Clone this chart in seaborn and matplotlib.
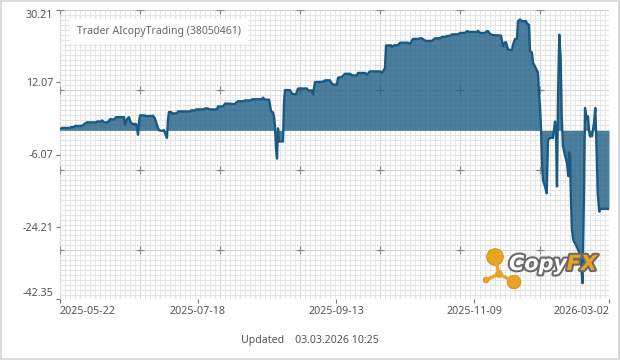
import numpy as np
import pandas as pd
import matplotlib
matplotlib.use("Agg")
import matplotlib.pyplot as plt
import seaborn as sns
from matplotlib.patches import Circle, Rectangle
import matplotlib.patheffects as pe

# ---------------- data ----------------
title = "Trader AIcopyTrading (38050461)"
updated = "Updated    03.03.2026 10:25"
x_tick_labels = ["2025-05-22", "2025-07-18", "2025-09-13", "2025-11-09", "2026-03-02"]
x_tick_points = [0, 138, 276, 414, 549]
y_ticks = [30.21, 12.07, -6.07, -24.21, -42.35]

point = [0, 2, 10, 11, 14, 15, 21, 23, 25, 27, 36, 37, 41, 42, 44, 48, 50, 54, 56, 64,
         65, 67, 69, 71, 73, 76, 77, 78, 79, 80, 84, 86, 92, 93, 95, 97, 99, 102, 104, 105,
         107, 108, 109, 111, 112, 117, 118, 130, 131, 135, 136, 144, 145, 148, 149, 157, 158, 163, 165, 170,
         171, 175, 176, 178, 183, 185, 191, 192, 202, 203, 205, 209, 210, 211, 213, 214, 215, 216, 217, 218,
         219, 223, 224, 225, 230, 232, 236, 238, 247, 248, 252, 253, 255, 263, 265, 270, 271, 273, 277, 278,
         282, 285, 290, 292, 297, 298, 305, 307, 310, 320, 322, 323, 325, 326, 331, 332, 334, 338, 340, 348,
         350, 352, 353, 358, 360, 362, 364, 366, 372, 374, 375, 380, 382, 385, 387, 390, 392, 398, 400, 405,
         407, 409, 417, 418, 420, 425, 427, 428, 430, 433, 441, 442, 443, 445, 446, 448, 452, 453, 455, 457,
         458, 460, 461, 462, 466, 467, 469, 470, 472, 473, 475, 477, 478, 479, 480, 481, 482, 483, 485, 486.7,
         488, 490, 493, 494, 495, 496, 497, 498, 499.3, 500.7, 501.7, 503, 505, 507, 508.3, 509, 510, 511, 512, 513.3,
         516.7, 519.5, 521, 522.5, 523.3, 524, 525, 526.7, 528, 529, 530, 532, 534, 535.3, 536.7, 537.7, 539.3, 540.5, 549]
equity = [0.3, 0.6, 0.6, 0.8, 0.8, 1.1, 1.1, 1.3, 1.7, 2.0, 2.0, 2.2, 2.2, 2.5, 2.0, 2.0, 2.8, 2.7, 3.3, 3.3,
          1.4, 2.8, 3.3, 1.8, 1.6, 1.6, 0.7, -1.1, 2.0, 3.75, 3.75, 3.6, 3.6, 3.7, 2.9, 1.3, 0.0, -0.1, 0.0, -0.7,
          -1.9, 2.8, 4.6, 4.6, 4.25, 4.25, 4.75, 4.75, 5.0, 5.0, 5.25, 5.25, 5.5, 5.5, 5.25, 5.25, 6.0, 6.0, 6.7, 6.7,
          6.6, 6.6, 6.9, 7.3, 7.3, 7.5, 7.5, 7.8, 7.8, 8.2, 7.7, 7.7, 6.4, 4.8, 4.5, 3.5, 1.0, -4.5, -7.1, 0.5,
          -2.8, -2.8, 7.0, 10.1, 10.1, 9.2, 9.0, 10.5, 10.5, 10.0, 10.0, 9.0, 12.1, 12.2, 12.55, 12.55, 12.0, 11.5, 11.5, 13.2,
          13.4, 14.2, 14.2, 13.8, 13.8, 14.4, 14.4, 14.0, 14.8, 14.8, 14.4, 14.8, 15.6, 21.3, 21.35, 20.9, 21.35, 21.35, 22.0, 22.0,
          21.7, 22.5, 22.95, 22.95, 23.1, 23.1, 22.7, 22.45, 22.45, 22.9, 23.1, 23.1, 23.45, 23.45, 23.7, 23.7, 24.1, 24.1, 24.45, 24.45,
          24.9, 24.7, 24.7, 25.0, 24.45, 24.45, 24.9, 24.9, 24.2, 23.9, 23.8, 22.4, 21.1, 22.1, 22.1, 20.3, 20.1, 21.5, 22.95, 22.95,
          27.4, 27.8, 27.6, 27.4, 27.4, 26.8, 26.5, 19.85, 19.5, 16.9, 16.0, 15.0, 14.4, 9.3, 6.0, 0.5, -8.0, -12.5, -14.1, -15.8,
          -2.4, -1.9, -1.9, 0.2, 2.2, -0.5, -14.1, 8.5, 24.0, 17.8, 3.5, -4.0, -6.3, -8.2, -11.5, -5.5, -6.0, -18.0, -25.0, -27.5,
          -29.2, -30.8, -33.0, -38.4, -26.0, -15.0, 5.6, 2.7, 3.5, 0.0, -1.5, -1.5, 1.9, 5.6, -5.7, -15.8, -20.4, -19.7, -19.7]

df = pd.DataFrame({"point": point, "equity": equity})

# ---------------- style ----------------
sns.set_style("white")
plt.rcParams["font.family"] = ["Noto Sans", "DejaVu Sans"]

W, H = 620, 360
fig = plt.figure(figsize=(W / 100, H / 100), dpi=100)
fig.patch.set_facecolor("white")

L, R, T, B = 60, 609, 10, 299
ax = fig.add_axes([L / W, 1 - B / H, (R - L) / W, (B - T) / H])
ax.set_facecolor("white")

xmin, xmax = 0, 549
ymax, ymin = y_ticks[0], y_ticks[-1]
ax.set_xlim(xmin, xmax)
ax.set_ylim(ymin, ymax)

# minor grid every 5 px, anchored at top-left
px_w = (xmax - xmin) / (R - L)
px_h = (ymax - ymin) / (B - T)
gx = np.arange(0, (R - L) + 0.1, 5) * px_w + xmin
gy = ymax - np.arange(0, (B - T) + 0.1, 5) * px_h
for i, v in enumerate(gx):
    ax.axvline(v, color="#d6d6d6" if i % 16 == 0 else "#e4e4e4", lw=0.75, zorder=0)
for i, v in enumerate(gy):
    ax.axhline(v, color="#d6d6d6" if i % 16 == 0 else "#e4e4e4", lw=0.75, zorder=0)

# '+' marks every 80 px
mx = [xmin + k * 80 * px_w for k in range(0, 7)]
my = [ymax - k * 80 * px_h for k in range(0, 4)]
MX, MY = np.meshgrid(mx, my)
ax.scatter(MX.ravel(), MY.ravel(), marker="+", s=30, color="#8a8a8a", linewidths=0.9, zorder=1)

# data
ax.fill_between(df["point"], df["equity"], 0, color="#1f5f86", alpha=0.8, lw=0, zorder=2, interpolate=True)
sns.lineplot(data=df, x="point", y="equity", ax=ax, color="#185a81", lw=1.7,
             estimator=None, sort=False, zorder=3)

ax.set_xlabel("")
ax.set_ylabel("")
for s in ax.spines.values():
    s.set_visible(False)

ax.set_yticks(y_ticks)
ax.set_yticklabels([f"{v:.2f}" for v in y_ticks])
ax.set_xticks(x_tick_points)
ax.set_xticklabels(x_tick_labels)
ax.tick_params(axis="both", which="major", length=3, width=0.8, color="#777777",
               labelsize=7.7, labelcolor="#555555", pad=2, left=True, bottom=True)
xl = ax.get_xticklabels()
xl[0].set_ha("left")
xl[-1].set_ha("right")
yl = ax.get_yticklabels()
yl[0].set_va("top")
yl[-1].set_va("bottom")

ax.text((77 - L) / (R - L), (B - 31.5) / (B - T), title, transform=ax.transAxes,
        fontsize=7.5, color="#666666", va="center", ha="left", zorder=5,
        bbox=dict(boxstyle="square,pad=0.7", fc="white", ec="none"))

# ---------------- overlay: border, footer, logo ----------------
ov = fig.add_axes([0, 0, 1, 1], zorder=10)
ov.set_xlim(0, W)
ov.set_ylim(H, 0)
ov.axis("off")
ov.patch.set_alpha(0)
ov.add_patch(Rectangle((0.75, 0.75), W - 1.5, H - 1.5, fill=False, ec="#d4d4d4", lw=1.2))

ov.text(W / 2, 341, updated, ha="center", va="center", fontsize=7.6, color="#555555")

orange = "#e9a521"
edge = "#c98b17"
joint = (499, 274)
for (cx, cy) in [(495, 257), (514, 282), (486, 280)]:
    ov.plot([joint[0], cx], [joint[1], cy], color=orange, lw=2.4, solid_capstyle="round")
for (cx, cy, r) in [(495, 257, 8.3), (514, 282, 6.8), (499, 274, 3.3), (486, 280, 2.8)]:
    ov.add_patch(Circle((cx, cy), r, fc=orange, ec=edge, lw=0.6))

stroke = [pe.withStroke(linewidth=3, foreground="#6a6a6a")]
ov.text(509, 270, "Copy", fontsize=15, fontweight="bold", fontstyle="italic",
        family="DejaVu Sans", color="white", ha="left", va="baseline", path_effects=stroke)
ov.text(597, 270, "FX", fontsize=15, fontweight="bold", fontstyle="italic",
        family="DejaVu Sans", color=orange, ha="right", va="baseline", path_effects=stroke)

fig.savefig("out.png", dpi=100)
